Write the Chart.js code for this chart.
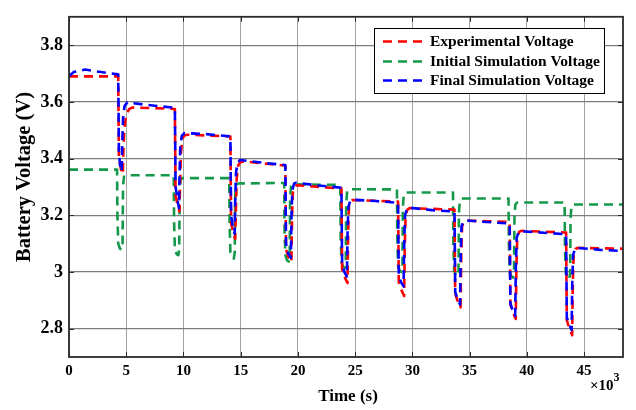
<!DOCTYPE html>
<html>
<head>
<meta charset="utf-8">
<script src="https://cdn.jsdelivr.net/npm/chart.js@4/dist/chart.umd.min.js"></script>
<style>
  html, body { margin: 0; padding: 0; background: #fff; }
  canvas { display: block; }
</style>
</head>
<body>
<canvas id="c" width="636" height="410"></canvas>
<script>
// Pulse-discharge test: battery terminal voltage over time (s)
const expTime = [0, 4300, 4360, 4550, 4700, 4760, 4850, 5000, 5250, 5500, 7400, 9250, 9310, 9500, 9650, 9700, 9780, 9900, 10100, 10400, 14100, 14160, 14350, 14520, 14580, 14650, 14780, 14950, 15300, 18900, 18960, 19150, 19430, 19490, 19560, 19720, 19900, 23800, 23860, 24050, 24330, 24390, 24460, 24620, 24800, 28750, 28810, 29000, 29280, 29340, 29410, 29570, 29750, 33680, 33740, 33930, 34210, 34270, 34340, 34500, 34680, 38500, 38560, 38750, 39030, 39090, 39160, 39320, 39500, 43430, 43490, 43680, 43960, 44020, 44090, 44250, 44430, 48400];
const expVolt = [3.69, 3.69, 3.40, 3.36, 3.345, 3.44, 3.51, 3.555, 3.574, 3.58, 3.578, 3.575, 3.27, 3.235, 3.214, 3.30, 3.42, 3.47, 3.482, 3.484, 3.478, 3.17, 3.14, 3.117, 3.22, 3.33, 3.375, 3.387, 3.39, 3.375, 3.08, 3.055, 3.035, 3.2, 3.28, 3.302, 3.306, 3.294, 3.01, 2.985, 2.961, 3.14, 3.23, 3.25, 3.254, 3.248, 2.965, 2.94, 2.915, 3.10, 3.2, 3.22, 3.225, 3.22, 2.925, 2.9, 2.875, 3.06, 3.16, 3.177, 3.181, 3.177, 2.885, 2.86, 2.834, 3.02, 3.12, 3.141, 3.145, 3.139, 2.83, 2.805, 2.777, 2.97, 3.06, 3.081, 3.085, 3.082];

const initTime = [0, 4200, 4230, 4300, 4450, 4600, 4680, 4720, 4800, 4950, 9150, 9180, 9250, 9400, 9550, 9630, 9670, 9750, 9900, 14000, 14030, 14100, 14250, 14400, 14480, 14520, 14600, 14750, 18800, 18830, 18900, 19050, 19200, 19280, 19320, 19400, 19550, 23700, 23730, 23800, 23950, 24100, 24180, 24220, 24300, 24450, 28650, 28680, 28750, 28900, 29050, 29130, 29170, 29250, 29400, 33550, 33580, 33650, 33800, 33950, 34030, 34070, 34150, 34300, 38400, 38430, 38500, 38650, 38800, 38880, 38920, 39000, 39150, 43300, 43330, 43400, 43550, 43700, 43780, 43820, 43900, 44050, 48400];
const initVolt = [3.361, 3.361, 3.2, 3.10, 3.082, 3.078, 3.10, 3.30, 3.336, 3.341, 3.341, 3.18, 3.08, 3.063, 3.059, 3.08, 3.29, 3.326, 3.331, 3.331, 3.17, 3.07, 3.051, 3.047, 3.07, 3.27, 3.307, 3.312, 3.314, 3.15, 3.06, 3.041, 3.037, 3.06, 3.26, 3.303, 3.309, 3.307, 3.13, 3.035, 3.019, 3.015, 3.04, 3.24, 3.286, 3.292, 3.291, 3.12, 3.02, 3.004, 3.0, 3.02, 3.23, 3.274, 3.28, 3.28, 3.1, 3.005, 2.989, 2.985, 3.005, 3.21, 3.253, 3.259, 3.259, 3.1, 3.0, 2.984, 2.98, 3.0, 3.2, 3.238, 3.245, 3.245, 3.09, 2.995, 2.978, 2.974, 2.995, 3.19, 3.232, 3.238, 3.238];

const finTime = [0, 400, 1400, 2800, 4300, 4360, 4500, 4600, 4650, 4720, 4850, 5100, 5400, 7300, 9250, 9310, 9500, 9600, 9650, 9720, 9850, 10100, 12000, 14100, 14160, 14350, 14470, 14520, 14590, 14720, 14950, 17000, 18900, 18960, 19150, 19380, 19440, 19510, 19670, 19850, 21800, 23800, 23860, 24050, 24280, 24340, 24410, 24570, 24750, 26800, 28750, 28810, 29000, 29230, 29290, 29360, 29520, 29700, 31700, 33680, 33740, 33930, 34160, 34220, 34290, 34450, 34630, 36500, 38500, 38560, 38750, 38980, 39040, 39110, 39270, 39450, 41500, 43430, 43490, 43680, 43910, 43970, 44040, 44200, 44380, 46400, 48400];
const finVolt = [3.69, 3.705, 3.714, 3.705, 3.697, 3.42, 3.365, 3.355, 3.45, 3.54, 3.585, 3.598, 3.596, 3.587, 3.579, 3.30, 3.25, 3.225, 3.33, 3.44, 3.48, 3.49, 3.486, 3.478, 3.2, 3.15, 3.134, 3.25, 3.35, 3.385, 3.395, 3.385, 3.377, 3.1, 3.065, 3.05, 3.2, 3.29, 3.312, 3.315, 3.305, 3.297, 3.03, 3.0, 2.984, 3.15, 3.23, 3.25, 3.255, 3.25, 3.244, 2.99, 2.965, 2.949, 3.11, 3.2, 3.222, 3.227, 3.218, 3.213, 2.93, 2.905, 2.885, 3.06, 3.16, 3.178, 3.182, 3.176, 3.171, 2.89, 2.865, 2.845, 3.02, 3.12, 3.14, 3.144, 3.138, 3.133, 2.84, 2.815, 2.795, 2.97, 3.06, 3.08, 3.085, 3.078, 3.074];

const xTickValues = [0, 5000, 10000, 15000, 20000, 25000, 30000, 35000, 40000, 45000];
const xTickLabels = ['0', '5', '10', '15', '20', '25', '30', '35', '40', '45'];
const yTickValues = [2.8, 3.0, 3.2, 3.4, 3.6, 3.8];
const yTickLabels = ['2.8', '3', '3.2', '3.4', '3.6', '3.8'];

const seriesNames = ['Experimental Voltage', 'Initial Simulation Voltage', 'Final Simulation Voltage'];

const SERIF = '"Liberation Serif", "Times New Roman", serif';
const DASH = [9, 6];

const pairs = (t, v) => t.map((tt, i) => ({ x: tt, y: v[i] }));

const frame = {
  id: 'frame',
  afterDraw(chart) {
    const { ctx, chartArea: a, scales: { x, y } } = chart;
    ctx.save();

    // inward tick marks on all four sides
    ctx.strokeStyle = '#2b2b2b';
    ctx.lineWidth = 1;
    ctx.beginPath();
    xTickValues.forEach(v => {
      const px = Math.round(x.getPixelForValue(v)) + 0.5;
      ctx.moveTo(px, a.bottom); ctx.lineTo(px, a.bottom - 5);
      ctx.moveTo(px, a.top); ctx.lineTo(px, a.top + 5);
    });
    yTickValues.forEach(v => {
      const py = Math.round(y.getPixelForValue(v)) + 0.5;
      ctx.moveTo(a.left, py); ctx.lineTo(a.left + 5, py);
      ctx.moveTo(a.right, py); ctx.lineTo(a.right - 5, py);
    });
    ctx.stroke();

    // axes box
    ctx.lineWidth = 1.8;
    ctx.strokeRect(a.left, a.top, a.right - a.left, a.bottom - a.top);

    // axis titles
    ctx.fillStyle = '#000';
    ctx.textAlign = 'center';
    ctx.textBaseline = 'middle';
    ctx.font = 'bold 17px ' + SERIF;
    ctx.fillText('Time (s)', 348, 397);

    ctx.save();
    ctx.translate(25, 177);
    ctx.rotate(-Math.PI / 2);
    ctx.font = 'bold 20.5px ' + SERIF;
    ctx.fillText('Battery Voltage (V)', 0, 0);
    ctx.restore();

    // x-axis multiplier
    ctx.textAlign = 'left';
    ctx.textBaseline = 'alphabetic';
    ctx.font = 'bold 15px ' + SERIF;
    ctx.fillText('\u00d710', 590, 390);
    const w = ctx.measureText('\u00d710').width;
    ctx.font = 'bold 12px ' + SERIF;
    ctx.fillText('3', 590 + w, 381);

    // legend
    const lx = 374.5, ly = 28.5, lw = 230, lh = 65;
    ctx.fillStyle = '#fff';
    ctx.fillRect(lx, ly, lw, lh);
    ctx.strokeStyle = '#000';
    ctx.lineWidth = 1;
    ctx.strokeRect(lx, ly, lw, lh);
    const rows = [41.5, 61.5, 80.5];
    chart.data.datasets.forEach((ds, i) => {
      const ry = rows[i];
      ctx.beginPath();
      ctx.setLineDash(ds.borderDash);
      ctx.strokeStyle = ds.borderColor;
      ctx.lineWidth = 2.6;
      ctx.moveTo(383, ry); ctx.lineTo(423, ry);
      ctx.stroke();
      ctx.setLineDash([]);
      ctx.fillStyle = '#000';
      ctx.font = 'bold 15.5px ' + SERIF;
      ctx.textAlign = 'left';
      ctx.textBaseline = 'middle';
      ctx.fillText(ds.label, 430, ry + 0.5);
    });

    ctx.restore();
  }
};

new Chart(document.getElementById('c'), {
  type: 'line',
  data: {
    datasets: [
      { label: seriesNames[0], data: pairs(expTime, expVolt), borderColor: '#ff0000', order: 1 },
      { label: seriesNames[1], data: pairs(initTime, initVolt), borderColor: '#14994a', order: 2 },
      { label: seriesNames[2], data: pairs(finTime, finVolt), borderColor: '#0000ff', order: 0 }
    ].map(d => Object.assign(d, {
      borderWidth: 2.6, borderDash: DASH, pointRadius: 0, tension: 0, fill: false,
      borderCapStyle: 'butt', borderJoinStyle: 'round'
    }))
  },
  options: {
    responsive: false,
    animation: false,
    devicePixelRatio: 1,
    layout: { padding: { left: 0, right: 13, top: 11, bottom: 0 } },
    plugins: { legend: { display: false }, tooltip: { enabled: false } },
    scales: {
      x: {
        type: 'linear', min: 0, max: 48400,
        afterBuildTicks: s => { s.ticks = xTickValues.map(v => ({ value: v })); },
        afterFit: s => { s.height = 53; },
        border: { display: false },
        grid: { color: '#a3a3a3', lineWidth: 1, drawTicks: false },
        ticks: {
          padding: 5, color: '#000', maxRotation: 0, autoSkip: false,
          font: { family: SERIF, size: 15, weight: 'bold' },
          callback: (v, i) => xTickLabels[i]
        }
      },
      y: {
        type: 'linear', min: 2.7, max: 3.9,
        afterBuildTicks: s => { s.ticks = yTickValues.map(v => ({ value: v })); },
        afterFit: s => { s.width = 69; },
        border: { display: false },
        grid: { color: '#7d7d7d', lineWidth: 1.2, drawTicks: false },
        ticks: {
          padding: 6, color: '#000', autoSkip: false,
          font: { family: SERIF, size: 18, weight: 'bold' },
          callback: (v, i) => yTickLabels[i]
        }
      }
    }
  },
  plugins: [frame]
});
</script>
</body>
</html>
